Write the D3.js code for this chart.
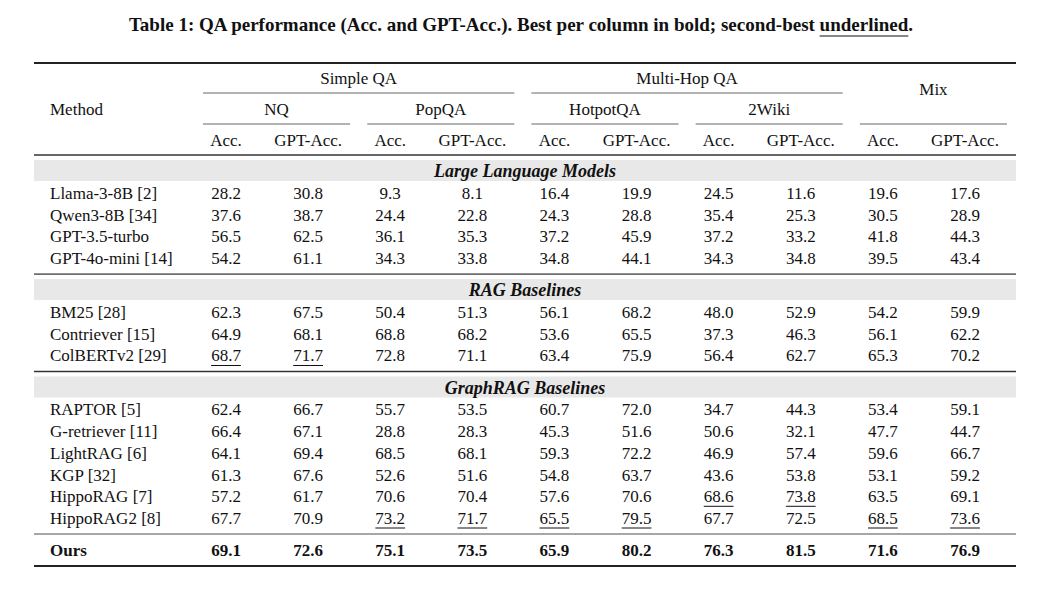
<!DOCTYPE html>
<html>
<head>
<meta charset="utf-8">
<script src="https://cdn.jsdelivr.net/npm/d3@7"></script>
<style>
  html, body { margin: 0; padding: 0; background: #fff; }
  svg text { font-family: "Liberation Serif", "DejaVu Serif", serif; fill: #111; }
</style>
</head>
<body>
<svg id="fig" width="1060" height="591"></svg>
<script>
// ---- data ----
const title = "Table 1: QA performance (Acc. and GPT-Acc.). Best per column in bold; second-best ";
const titleTail = "underlined";
const groupNames = ["Simple QA", "Multi-Hop QA", "Mix"];
const groupDatasets = [["NQ", "PopQA"], ["HotpotQA", "2Wiki"], ["Mix"]];
const datasets = ["NQ", "PopQA", "HotpotQA", "2Wiki", "Mix"];
const metrics = ["Acc.", "GPT-Acc."];
const sectionNames = ["Large Language Models", "RAG Baselines", "GraphRAG Baselines"];

const llmMethods = ["Llama-3-8B [2]", "Qwen3-8B [34]", "GPT-3.5-turbo", "GPT-4o-mini [14]"];
const llmValues = [
  [28.2, 30.8, 9.3, 8.1, 16.4, 19.9, 24.5, 11.6, 19.6, 17.6],
  [37.6, 38.7, 24.4, 22.8, 24.3, 28.8, 35.4, 25.3, 30.5, 28.9],
  [56.5, 62.5, 36.1, 35.3, 37.2, 45.9, 37.2, 33.2, 41.8, 44.3],
  [54.2, 61.1, 34.3, 33.8, 34.8, 44.1, 34.3, 34.8, 39.5, 43.4]
];
const ragMethods = ["BM25 [28]", "Contriever [15]", "ColBERTv2 [29]"];
const ragValues = [
  [62.3, 67.5, 50.4, 51.3, 56.1, 68.2, 48.0, 52.9, 54.2, 59.9],
  [64.9, 68.1, 68.8, 68.2, 53.6, 65.5, 37.3, 46.3, 56.1, 62.2],
  [68.7, 71.7, 72.8, 71.1, 63.4, 75.9, 56.4, 62.7, 65.3, 70.2]
];
const graphMethods = ["RAPTOR [5]", "G-retriever [11]", "LightRAG [6]", "KGP [32]", "HippoRAG [7]", "HippoRAG2 [8]"];
const graphValues = [
  [62.4, 66.7, 55.7, 53.5, 60.7, 72.0, 34.7, 44.3, 53.4, 59.1],
  [66.4, 67.1, 28.8, 28.3, 45.3, 51.6, 50.6, 32.1, 47.7, 44.7],
  [64.1, 69.4, 68.5, 68.1, 59.3, 72.2, 46.9, 57.4, 59.6, 66.7],
  [61.3, 67.6, 52.6, 51.6, 54.8, 63.7, 43.6, 53.8, 53.1, 59.2],
  [57.2, 61.7, 70.6, 70.4, 57.6, 70.6, 68.6, 73.8, 63.5, 69.1],
  [67.7, 70.9, 73.2, 71.7, 65.5, 79.5, 67.7, 72.5, 68.5, 73.6]
];
const oursMethod = "Ours";
const oursValues = [69.1, 72.6, 75.1, 73.5, 65.9, 80.2, 76.3, 81.5, 71.6, 76.9];

// ---- layout ----
const svg = d3.select("#fig");
const left = 34, right = 1016, methodX = 50;
const fs = 17;

const columns = d3.cross(datasets, metrics).map(([d, m]) => d + "|" + m);
const x = d3.scalePoint().domain(columns).range([226, 965]);
// cmidrule extents relative to the Acc. / GPT-Acc. column centres
const spanL = ds => x(ds + "|Acc.") - 23;
const spanR = ds => x(ds + "|GPT-Acc.") + 42;

// best / second best per column
const allRows = [...llmValues, ...ragValues, ...graphValues, oursValues];
const ranks = columns.map((c, j) => {
  const vals = Array.from(new Set(allRows.map(r => r[j]))).sort((a, b) => b - a);
  return { best: vals[0], second: vals[1] };
});

function rule(y, w, color) {
  svg.append("line").attr("x1", left).attr("x2", right).attr("y1", y).attr("y2", y)
    .attr("stroke", color).attr("stroke-width", w);
}
function cmid(x1, x2, y) {
  svg.append("line").attr("x1", x1).attr("x2", x2).attr("y1", y).attr("y2", y)
    .attr("stroke", "#9a9a9a").attr("stroke-width", 1.3);
}
function label(xp, yc, txt, anchor, opts = {}) {
  return svg.append("text").attr("x", xp).attr("y", yc).attr("dy", "0.35em")
    .attr("text-anchor", anchor).attr("font-size", opts.size || fs)
    .attr("font-weight", opts.bold ? "bold" : null)
    .attr("font-style", opts.italic ? "italic" : null)
    .text(txt);
}

// title
const t = svg.append("text").attr("x", 521).attr("y", 31).attr("text-anchor", "middle")
  .attr("font-size", 19).attr("font-weight", "bold");
t.append("tspan").text(title);
t.append("tspan").text(titleTail);
t.append("tspan").text(".");
{
  const n = title.length;
  const s = t.node().getStartPositionOfChar(n);
  const e = t.node().getEndPositionOfChar(n + titleTail.length - 1);
  svg.append("line").attr("x1", s.x).attr("x2", e.x).attr("y1", 36).attr("y2", 36)
    .attr("stroke", "#111").attr("stroke-width", 1.2);
}

// header
rule(63, 2, "#222");
label(methodX, 109, "Method", "start");
groupNames.forEach((g, i) => {
  const ds = groupDatasets[i];
  const x0 = spanL(ds[0]);
  const x1 = spanR(ds[ds.length - 1]);
  if (g === "Mix") {
    label((x0 + x1) / 2, 89, g, "middle");
  } else {
    label((x0 + x1) / 2, 78, g, "middle");
    cmid(x0, x1, 93);
  }
});
datasets.forEach(ds => {
  if (ds !== "Mix") label((spanL(ds) + spanR(ds)) / 2, 109, ds, "middle");
  cmid(spanL(ds), spanR(ds), 124);
});
columns.forEach(c => label(x(c), 140, c.split("|")[1], "middle"));
rule(155, 1.6, "#333");

// body
const rowStep = 21.7;
function drawRow(yc, name, vals, bold) {
  label(methodX, yc, name, "start", { bold });
  vals.forEach((v, j) => {
    const isBest = v === ranks[j].best, isSecond = v === ranks[j].second;
    const el = label(x(columns[j]), yc, v.toFixed(1), "middle", { bold: bold || isBest });
    if (isSecond && !isBest) {
      const w = el.node().getComputedTextLength();
      svg.append("line").attr("x1", x(columns[j]) - w / 2).attr("x2", x(columns[j]) + w / 2)
        .attr("y1", yc + 10).attr("y2", yc + 10).attr("stroke", "#111").attr("stroke-width", 1);
    }
  });
}

const sections = [
  { name: sectionNames[0], methods: llmMethods, values: llmValues },
  { name: sectionNames[1], methods: ragMethods, values: ragValues },
  { name: sectionNames[2], methods: graphMethods, values: graphValues }
];
const sepColors = ["#6e6e6e", "#333", "#8a8a8a"];
let y = 155;
sections.forEach((s, i) => {
  const bandTop = y + 5;
  svg.append("rect").attr("x", left).attr("y", bandTop).attr("width", right - left).attr("height", 21)
    .attr("fill", "#e8e8e8");
  label((left + right) / 2, bandTop + 11, s.name, "middle", { bold: true, italic: true, size: 18 });
  const yc = bandTop + 21 + 12;
  s.methods.forEach((m, k) => {
    drawRow(yc + k * rowStep, m, s.values[k], false);
  });
  y = yc + (s.methods.length - 1) * rowStep + 16;
  rule(y, 1.6, sepColors[i]);
});
drawRow(y + 16, oursMethod, oursValues, true);
rule(y + 32, 2, "#222");
</script>
</body>
</html>
